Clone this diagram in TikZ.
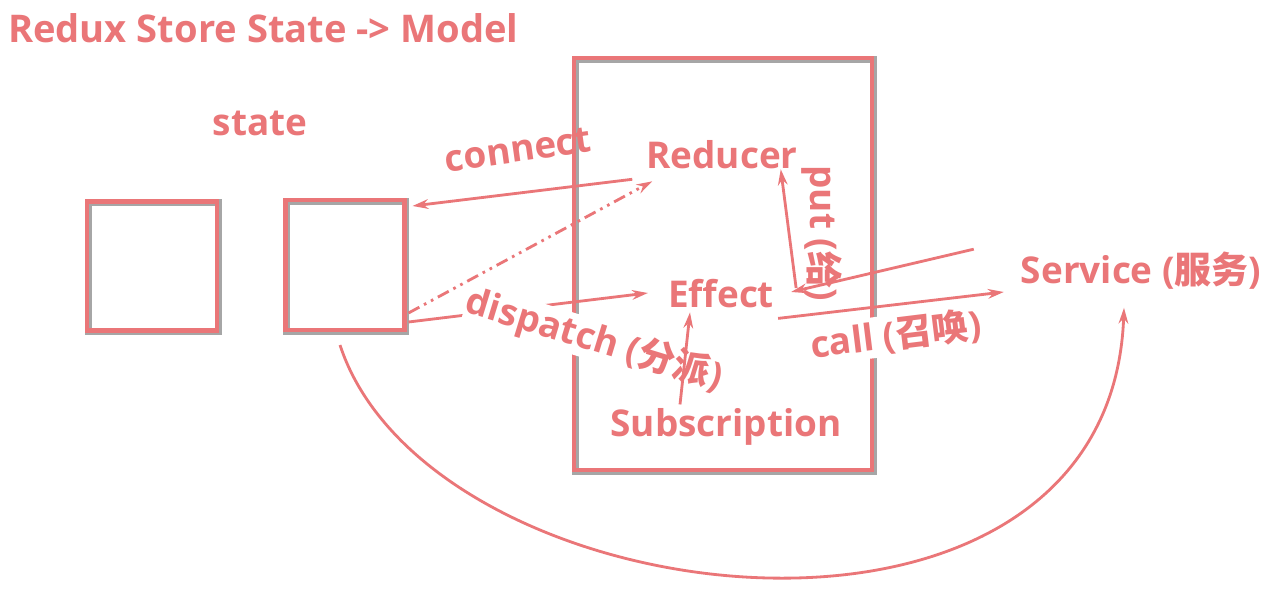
\documentclass[tikz,border=0pt]{standalone}
\usepackage{fontspec}
\setmainfont{Open Sans}
\newfontfamily\cjk{Noto Sans CJK SC}
\usetikzlibrary{
		arrows.meta,
		calc,
		positioning
	}
\definecolor{reduxpink}{RGB}{234,118,120}
\tikzset{
		>={Stealth[length=9pt,width=5.5pt]},
		lbl/.style={text=reduxpink, font=\bfseries\fontsize{21}{25}\selectfont, inner sep=1pt},
		shadowed/.style={draw=reduxpink, line width=2.3pt,
			preaction={draw=black!35, line width=3.8pt, transform canvas={shift={(0.7pt,-0.7pt)}}}},
		flow/.style={->, draw=reduxpink, line width=1.6pt}
	}
\begin{document}
\begin{tikzpicture}[x=0.02cm, y=-0.02cm]
    \useasboundingbox[fill=white] (0,0) rectangle (1274,590);

    % the state boxes and the model
    \node[shadowed, minimum width=2.6cm, minimum height=2.58cm] (s1) at (152,266) {};
    \node[shadowed, minimum width=2.38cm, minimum height=2.6cm] (s2) at (345,265) {};
    \node[shadowed, minimum width=5.96cm, minimum height=8.24cm] (model) at (723,264) {};

    % the texts
    \node[lbl, anchor=west, font=\bfseries\fontsize{21.7}{26}\selectfont] (title) at (6,28) {Redux Store State -> Model};
    \node[lbl] (state) at (260,123) {state};
    \node[lbl] (reducer) at (722,155) {Reducer};
    \node[lbl] (effect) at (721,294) {Effect};
    \node[lbl] (sub) at (726,427) {Subscription};
    \node[lbl] (service) at (1141,271) {Service ({\cjk\bfseries 服务})};
    \node[lbl, rotate=8] (connect) at (518,150) {connect};
    \node[lbl, rotate=-90] (put) at (822,233) {put ({\cjk\bfseries 给})};

    % connect and dispatch
    \draw[flow] ([shift={(-12,8)}]reducer.south west) -- ([shift={(6,8)}]s2.north east);
    \draw[flow, dash pattern=on 7pt off 3pt on 1.5pt off 3pt on 1.5pt off 3pt] ([shift={(2,-19)}]s2.south east) -- ([shift={(8,10)}]reducer.south west);
    \draw[flow] ([shift={(2,-10)}]s2.south east) -- ([shift={(-18,-1)}]effect.west);
    \node[lbl, rotate=-17, fill=white, inner sep=0pt] (dispatch) at (594,340) {dispatch ({\cjk\bfseries 分派})};
    \draw[flow] ([shift={(-46,-2)}]sub.north) -- ([shift={(-31,2)}]effect.south);

    % call and put
    \node[lbl, rotate=7, fill=white] (call) at (896,335) {call ({\cjk\bfseries 召唤})};
    \draw[flow] ([shift={(2,8)}]effect.south east) -- ([shift={(-15,21)}]service.west);
    \draw[flow] ([shift={(-45,-1)}]service.north west) -- ([shift={(15,-2)}]effect.east);
    \draw[flow] ([shift={(20,-6)}]effect.east) -- ([shift={(-19,-2)}]reducer.south east);

    % the long way round to the service
    \draw[flow] ([shift={(-5,13)}]s2.south) .. controls (430,620) and (1110,700) .. ([shift={(-17,16)}]service.south);
\end{tikzpicture}
\end{document}
